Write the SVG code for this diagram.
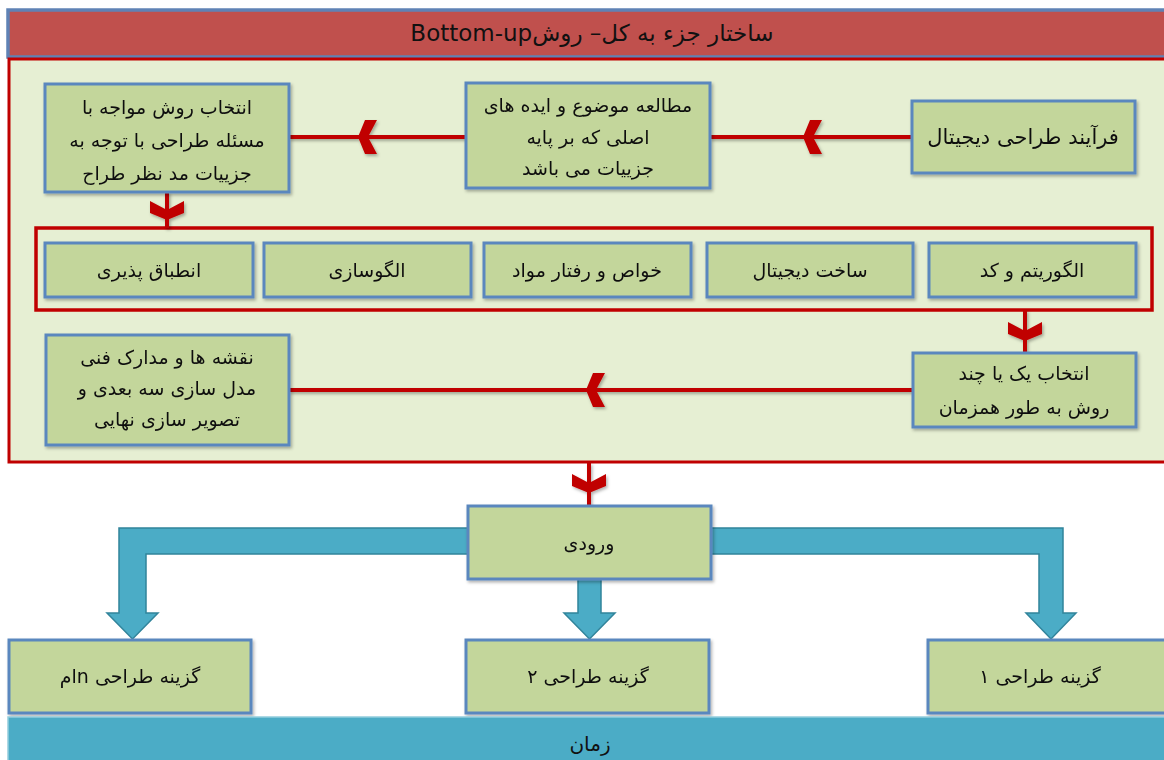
<svg xmlns="http://www.w3.org/2000/svg" xmlns:xlink="http://www.w3.org/1999/xlink" width="1164" height="760" viewBox="0 0 1164 760">
<defs>
<style>
.node{fill:#c3d69b;stroke:#5a87be;stroke-width:3}
.t{font-family:"DejaVu Sans",sans-serif;font-size:19px;fill:#111;text-anchor:middle;direction:rtl;dominant-baseline:central}
.red{stroke:#c00000;stroke-width:4;fill:none}
.chev{fill:#c00000}
.blue{fill:#4bacc6;stroke:#31849b;stroke-width:1.5}
</style>
<filter id="sh" x="-10%" y="-10%" width="130%" height="140%">
<feDropShadow dx="1.5" dy="2" stdDeviation="1.5" flood-color="#000" flood-opacity="0.3"/>
</filter>
<path id="chev" d="M0,0 L7,-17 L19,-17 L10,0 L19,17 L7,17 Z"/>
</defs>
<rect width="1164" height="760" fill="#ffffff"/>

<g id="title">
<rect x="8" y="10" width="1170" height="47" fill="#c0504d" stroke="#5f82b5" stroke-width="3.5"/>
<text class="t" x="592" y="33" style="font-size:23px">ساختار جزء به کل– روشBottom-up</text>
</g>

<g id="panel">
<rect x="9" y="59" width="1170" height="403" fill="#e6efd3" stroke="#c00000" stroke-width="3"/>
</g>

<g id="group-methods">
<rect x="36" y="228" width="1116" height="82" fill="none" stroke="#c00000" stroke-width="3.5"/>
</g>

<g id="connectors">
<g filter="url(#sh)">
<line class="red" x1="911" y1="137" x2="710" y2="137"/>
<use href="#chev" class="chev" transform="translate(803,137)"/>
<line class="red" x1="466" y1="137" x2="289" y2="137"/>
<use href="#chev" class="chev" transform="translate(358,137)"/>
<line class="red" x1="167" y1="192" x2="167" y2="228"/>
<use href="#chev" class="chev" transform="translate(167,220) rotate(-90)"/>
<line class="red" x1="1025" y1="310" x2="1025" y2="353"/>
<use href="#chev" class="chev" transform="translate(1025,341) rotate(-90)"/>
<line class="red" x1="913" y1="390" x2="289" y2="390"/>
<use href="#chev" class="chev" transform="translate(586,390)"/>
<line class="red" x1="589" y1="463" x2="589" y2="506"/>
<use href="#chev" class="chev" transform="translate(589,493) rotate(-90)"/>
</g>
<polygon class="blue" points="468,528 119,528 119,613 107,613 132.5,639 158,613 146,613 146,554 468,554"/>
<polygon class="blue" points="711,528 1063,528 1063,613 1076,613 1051,639 1026,613 1039,613 1039,554 711,554"/>
<polygon class="blue" points="578,579 601,579 601,613 615,613 589.5,639 564,613 578,613"/>
</g>

<g id="n-digital-process" filter="url(#sh)">
<rect class="node" x="912" y="101" width="223" height="72"/>
<text class="t" x="1023" y="137" style="font-size:21px">فرآیند طراحی دیجیتال</text>
</g>

<g id="n-study" filter="url(#sh)">
<rect class="node" x="466" y="83" width="244" height="105"/>
<text class="t" x="588" y="105">مطالعه موضوع و ایده های</text>
<text class="t" x="588" y="137">اصلی که بر پایه</text>
<text class="t" x="588" y="168">جزییات می باشد</text>
</g>

<g id="n-choose-method" filter="url(#sh)">
<rect class="node" x="45" y="84" width="244" height="108"/>
<text class="t" x="167" y="107">انتخاب روش مواجه با</text>
<text class="t" x="167" y="140">مسئله طراحی با توجه به</text>
<text class="t" x="167" y="173">جزییات مد نظر طراح</text>
</g>

<g id="n-adapt" filter="url(#sh)">
<rect class="node" x="45" y="243" width="208" height="54"/>
<text class="t" x="149" y="270">انطباق پذیری</text>
</g>
<g id="n-pattern" filter="url(#sh)">
<rect class="node" x="264" y="243" width="207" height="54"/>
<text class="t" x="367" y="270">الگوسازی</text>
</g>
<g id="n-material" filter="url(#sh)">
<rect class="node" x="484" y="243" width="207" height="54"/>
<text class="t" x="587" y="270">خواص و رفتار مواد</text>
</g>
<g id="n-fabrication" filter="url(#sh)">
<rect class="node" x="707" y="243" width="206" height="54"/>
<text class="t" x="810" y="270">ساخت دیجیتال</text>
</g>
<g id="n-algorithm" filter="url(#sh)">
<rect class="node" x="929" y="243" width="207" height="54"/>
<text class="t" x="1032" y="270">الگوریتم و کد</text>
</g>

<g id="n-select" filter="url(#sh)">
<rect class="node" x="913" y="353" width="223" height="74"/>
<text class="t" x="1024" y="373">انتخاب یک یا چند</text>
<text class="t" x="1024" y="407">روش به طور همزمان</text>
</g>

<g id="n-docs" filter="url(#sh)">
<rect class="node" x="46" y="335" width="243" height="110"/>
<text class="t" x="167" y="357">نقشه ها و مدارک فنی</text>
<text class="t" x="167" y="388">مدل سازی سه بعدی و</text>
<text class="t" x="167" y="419">تصویر سازی نهایی</text>
</g>

<g id="n-input" filter="url(#sh)">
<rect class="node" x="468" y="506" width="243" height="73"/>
<text class="t" x="589" y="543">ورودی</text>
</g>

<g id="n-option-n" filter="url(#sh)">
<rect class="node" x="9" y="640" width="242" height="73"/>
<text class="t" x="130" y="676">گزینه طراحی nام</text>
</g>
<g id="n-option-2" filter="url(#sh)">
<rect class="node" x="466" y="640" width="243" height="73"/>
<text class="t" x="588" y="676">گزینه طراحی ۲</text>
</g>
<g id="n-option-1" filter="url(#sh)">
<rect class="node" x="928" y="640" width="245" height="73"/>
<text class="t" x="1040" y="676">گزینه طراحی ۱</text>
</g>

<g id="time">
<rect x="8" y="717" width="1170" height="50" fill="#4bacc6" stroke="#93cddd" stroke-width="1.5"/>
<text class="t" x="590" y="744" style="font-size:20px">زمان</text>
</g>
</svg>
